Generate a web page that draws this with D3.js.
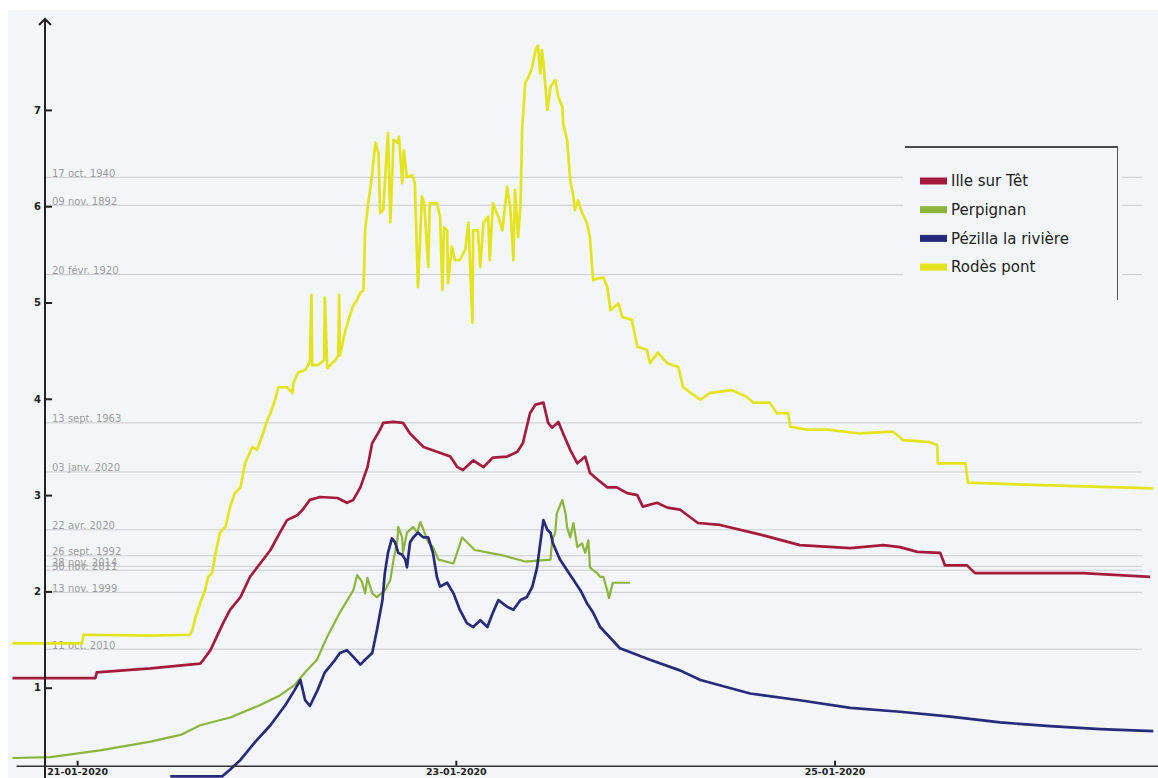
<!DOCTYPE html>
<html>
<head>
<meta charset="utf-8">
<script src="https://cdn.jsdelivr.net/npm/d3@7"></script>
<style>
  body { margin: 0; background: #fff; }
</style>
</head>
<body>
<div id="chart"></div>
<script>
// stations (legend order) and their colours
const stations = ["Ille sur Têt", "Perpignan", "Pézilla la rivière", "Rodès pont"];
const stationColors = ["#a51b3d", "#8db43c", "#282a7a", "#e4e41e"];

// readings: [hours since 20-01-2020 00:00, water level in m]
const illeSurTet = [
  [15.8, 1.10], [26.3, 1.10], [26.5, 1.16], [33.3, 1.20], [39.6, 1.25], [40.0, 1.29], [40.9, 1.39],
  [42.5, 1.67], [43.4, 1.81], [44.7, 1.94], [45.9, 2.15], [47.2, 2.29], [48.5, 2.43], [49.7, 2.61],
  [50.6, 2.74], [51.9, 2.79], [52.6, 2.85], [53.5, 2.95], [54.8, 2.98], [57.0, 2.97], [58.2, 2.92],
  [59.0, 2.95], [59.9, 3.08], [60.8, 3.29], [61.4, 3.54], [62.4, 3.68], [62.8, 3.75], [64.1, 3.76],
  [65.3, 3.75], [66.2, 3.64], [67.9, 3.50], [69.6, 3.45], [71.3, 3.40], [72.2, 3.29], [72.9, 3.26],
  [74.2, 3.36], [75.5, 3.29], [76.7, 3.39], [78.5, 3.40], [79.8, 3.45], [80.5, 3.54], [81.4, 3.85],
  [82.1, 3.94], [83.1, 3.96], [83.7, 3.75], [84.2, 3.70], [85.0, 3.76], [85.6, 3.64], [86.5, 3.47],
  [87.4, 3.33], [88.4, 3.40], [89.0, 3.23], [90.0, 3.16], [91.2, 3.08], [92.4, 3.08], [93.7, 3.02],
  [95.0, 3.00], [95.7, 2.88], [97.5, 2.92], [98.8, 2.87], [100.4, 2.85], [101.7, 2.77], [102.7, 2.71],
  [105.5, 2.69], [110.6, 2.59], [115.6, 2.48], [122.0, 2.45], [126.2, 2.48], [128.3, 2.46], [130.5, 2.41],
  [133.4, 2.40], [134.0, 2.27], [136.8, 2.27], [137.8, 2.19], [143.1, 2.19], [151.5, 2.19], [160.0, 2.15]
];

const perpignan = [
  [15.8, 0.27], [20.6, 0.28], [26.9, 0.35], [33.3, 0.44], [37.1, 0.51], [39.6, 0.61], [43.4, 0.69],
  [47.2, 0.82], [49.7, 0.92], [51.6, 1.03], [52.9, 1.16], [54.4, 1.29], [55.7, 1.53], [57.3, 1.78],
  [59.0, 2.01], [59.5, 2.17], [60.1, 2.10], [60.5, 1.98], [60.8, 2.14], [61.4, 1.98], [62.0, 1.94],
  [63.0, 2.01], [63.7, 2.12], [64.1, 2.33], [64.6, 2.53], [64.7, 2.67], [65.2, 2.56], [65.3, 2.40],
  [65.8, 2.61], [66.6, 2.67], [67.1, 2.61], [67.5, 2.72], [67.9, 2.64], [68.5, 2.51], [69.1, 2.46],
  [69.8, 2.33], [71.7, 2.29], [72.8, 2.56], [74.4, 2.43], [77.6, 2.38], [80.8, 2.31], [84.0, 2.33],
  [84.2, 2.53], [84.6, 2.61], [84.8, 2.81], [85.5, 2.95], [85.9, 2.81], [86.1, 2.67], [86.5, 2.56],
  [86.9, 2.71], [87.4, 2.46], [88.0, 2.50], [88.4, 2.40], [88.8, 2.53], [89.0, 2.25], [89.4, 2.22],
  [89.9, 2.19], [90.3, 2.15], [90.7, 2.15], [91.2, 2.01], [91.4, 1.93], [91.9, 2.09], [94.1, 2.09]
];

const pezilla = [
  [35.8, 0.08], [42.4, 0.08], [43.4, 0.15], [44.7, 0.25], [46.6, 0.44], [48.5, 0.61], [50.4, 0.82],
  [51.6, 0.98], [52.3, 1.08], [52.9, 0.87], [53.5, 0.81], [54.5, 0.98], [55.4, 1.16], [56.7, 1.29],
  [57.3, 1.36], [58.2, 1.39], [59.0, 1.32], [59.9, 1.24], [60.5, 1.29], [61.4, 1.36], [62.0, 1.60],
  [62.7, 1.91], [63.0, 2.19], [63.4, 2.40], [63.9, 2.55], [64.3, 2.51], [64.7, 2.40], [65.2, 2.38],
  [65.6, 2.33], [65.8, 2.25], [66.2, 2.51], [66.6, 2.56], [67.2, 2.61], [67.9, 2.56], [68.5, 2.56],
  [69.1, 2.40], [69.6, 2.15], [70.0, 2.05], [70.9, 2.09], [71.7, 1.98], [72.5, 1.81], [73.4, 1.67],
  [74.2, 1.63], [75.1, 1.70], [76.0, 1.63], [76.7, 1.78], [77.4, 1.91], [78.5, 1.84], [79.3, 1.81],
  [80.2, 1.91], [81.0, 1.94], [81.7, 2.05], [82.3, 2.25], [82.7, 2.50], [83.1, 2.74], [83.6, 2.64],
  [84.0, 2.61], [84.3, 2.50], [85.2, 2.33], [86.1, 2.22], [86.9, 2.12], [87.8, 2.01], [88.6, 1.88],
  [89.4, 1.78], [90.3, 1.63], [92.8, 1.41], [96.6, 1.29], [100.4, 1.18], [103.0, 1.08], [109.3, 0.94],
  [115.6, 0.87], [122.0, 0.79], [128.3, 0.75], [134.7, 0.70], [141.0, 0.64], [147.3, 0.60],
  [153.7, 0.57], [160.4, 0.55]
];

const rodesPont = [
  [15.8, 1.46], [24.6, 1.46], [24.8, 1.55], [33.3, 1.54], [38.3, 1.55], [38.6, 1.60], [39.0, 1.73],
  [39.6, 1.88], [40.2, 2.01], [40.6, 2.15], [41.1, 2.19], [41.7, 2.46], [42.1, 2.61], [42.8, 2.67],
  [43.4, 2.88], [44.0, 3.02], [44.7, 3.08], [45.3, 3.33], [46.2, 3.50], [46.8, 3.47], [47.4, 3.60],
  [48.1, 3.78], [48.5, 3.85], [49.1, 3.99], [49.5, 4.12], [50.6, 4.12], [51.3, 4.06], [51.4, 4.16],
  [52.0, 4.27], [52.9, 4.30], [53.3, 4.35], [53.5, 4.40], [53.7, 5.08], [53.8, 4.35], [54.5, 4.35],
  [55.3, 4.40], [55.4, 5.05], [55.7, 4.32], [56.7, 4.40], [57.1, 4.45], [57.2, 5.08], [57.3, 4.45],
  [57.6, 4.56], [58.0, 4.71], [58.6, 4.87], [58.9, 4.95], [59.5, 5.03], [59.9, 5.10], [60.3, 5.13],
  [60.5, 5.75], [60.9, 6.03], [61.4, 6.34], [61.8, 6.66], [62.2, 6.55], [62.4, 5.93], [62.8, 5.96],
  [63.2, 6.51], [63.4, 6.76], [63.7, 5.83], [64.1, 6.69], [64.6, 6.66], [64.8, 6.72], [65.2, 6.24],
  [65.4, 6.58], [65.8, 6.30], [66.5, 6.32], [66.8, 6.24], [67.2, 5.16], [67.7, 6.10], [68.0, 6.03],
  [68.5, 5.37], [68.7, 6.03], [69.6, 6.03], [70.0, 5.89], [70.3, 5.13], [70.5, 5.78], [70.9, 5.75],
  [71.0, 5.20], [71.5, 5.58], [71.9, 5.44], [72.5, 5.44], [73.2, 5.55], [73.6, 5.83], [74.1, 4.79],
  [74.2, 5.75], [74.8, 5.75], [75.1, 5.37], [75.5, 5.83], [76.1, 5.89], [76.3, 5.44], [76.7, 6.03],
  [77.4, 5.89], [77.9, 5.75], [78.5, 6.20], [78.9, 5.99], [79.3, 5.44], [79.5, 6.17], [79.9, 5.68],
  [80.2, 6.03], [80.4, 6.79], [80.8, 7.28], [81.2, 7.34], [81.7, 7.45], [82.1, 7.62], [82.4, 7.67],
  [82.7, 7.38], [82.9, 7.62], [83.1, 7.49], [83.6, 7.00], [84.0, 7.24], [84.6, 7.31], [85.0, 7.13],
  [85.5, 7.03], [85.6, 6.86], [86.1, 6.69], [86.5, 6.27], [86.9, 6.10], [87.1, 5.96], [87.5, 6.06],
  [88.0, 5.93], [88.6, 5.83], [89.0, 5.68], [89.4, 5.23], [90.0, 5.25], [90.7, 5.26], [91.2, 5.16],
  [91.6, 4.92], [92.6, 4.99], [93.1, 4.85], [94.3, 4.82], [95.0, 4.54], [96.2, 4.51], [96.6, 4.37],
  [97.6, 4.48], [98.8, 4.37], [100.2, 4.33], [100.8, 4.12], [103.0, 3.99], [104.2, 4.06], [107.0, 4.09],
  [108.9, 4.02], [109.7, 3.96], [111.8, 3.96], [112.7, 3.85], [114.1, 3.85], [114.4, 3.71], [116.5, 3.68],
  [119.1, 3.68], [123.2, 3.64], [127.4, 3.66], [128.7, 3.57], [132.1, 3.55], [133.0, 3.52], [133.1, 3.33],
  [136.6, 3.33], [136.9, 3.13], [147.3, 3.10], [160.4, 3.07]
];

const stationData = [illeSurTet, perpignan, pezilla, rodesPont];

// historical flood levels shown as reference lines
const floodLabels = ["17 oct. 1940", "09 nov. 1892", "20 févr. 1920", "13 sept. 1963", "03 janv. 2020",
  "22 avr. 2020", "26 sept. 1992", "28 nov. 2014", "30 nov. 2011", "13 nov. 1999", "11 oct. 2010"];
const floodLevels = [6.30, 6.01, 5.29, 3.75, 3.24, 2.64, 2.37, 2.26, 2.22, 1.99, 1.40];

const yTicks = [1, 2, 3, 4, 5, 6, 7];
const xTickDays = ["2020-01-21", "2020-01-23", "2020-01-25"];

const width = 1158, height = 778;
const toDate = h => new Date(2020, 0, 20, 0, Math.round(h * 60));

const svg = d3.select("#chart").append("svg")
    .attr("width", width)
    .attr("height", height)
    .style("font-family", "'DejaVu Sans', Verdana, sans-serif")
    .style("display", "block");

// panel background
svg.append("rect")
    .attr("x", 8).attr("y", 10)
    .attr("width", width - 8).attr("height", height - 10)
    .attr("fill", "#f3f6f9");

const x = d3.scaleTime()
    .domain([toDate(16.25), toDate(161)])
    .range([16, 1158]);

const y = d3.scaleLinear()
    .domain([0, 8])
    .range([784, 13.6]);

const axisX = 45;

// reference lines
const refG = svg.append("g");
refG.selectAll("line")
    .data(floodLevels)
    .join("line")
    .attr("x1", axisX).attr("x2", 1142)
    .attr("y1", d => y(d)).attr("y2", d => y(d))
    .attr("stroke", "#c9cbcf")
    .attr("stroke-width", 1);

// the 2014 / 2011 labels sit on top of each other, as in the original
refG.selectAll("text")
    .data(floodLevels)
    .join("text")
    .attr("x", axisX + 7)
    .attr("y", d => y(d) - 0.5)
    .attr("fill", "#9a9ca0")
    .attr("font-size", 10)
    .text((d, i) => floodLabels[i]);

// series
const line = d3.line()
    .x(d => x(toDate(d[0])))
    .y(d => y(d[1]));

svg.append("g")
    .selectAll("path")
    .data(stationData)
    .join("path")
    .attr("d", line)
    .attr("fill", "none")
    .attr("stroke", (d, i) => stationColors[i])
    .attr("stroke-width", (d, i) => i === 1 ? 2.2 : 2.7)
    .attr("stroke-linejoin", "round");

// legend
const legend = svg.append("g");
legend.append("rect")
    .attr("x", 903).attr("y", 147)
    .attr("width", 219).attr("height", 154)
    .attr("fill", "#f3f6f9");
legend.append("line")
    .attr("x1", 905).attr("x2", 1118)
    .attr("y1", 147).attr("y2", 147)
    .attr("stroke", "#111").attr("stroke-width", 1.5);
legend.append("line")
    .attr("x1", 1117.5).attr("x2", 1117.5)
    .attr("y1", 147).attr("y2", 300)
    .attr("stroke", "#555").attr("stroke-width", 1);

const rows = legend.selectAll("g.row")
    .data(stations)
    .join("g")
    .attr("class", "row")
    .attr("transform", (d, i) => `translate(920, ${181 + i * 28.7})`);
rows.append("rect")
    .attr("x", 0).attr("y", -3.5)
    .attr("width", 27).attr("height", 7)
    .attr("fill", (d, i) => stationColors[i]);
rows.append("text")
    .attr("x", 31).attr("dy", "0.35em")
    .attr("font-size", 15)
    .attr("fill", "#222")
    .text(d => d);

// y axis
const yAxisG = svg.append("g")
    .attr("transform", `translate(${axisX},0)`)
    .call(d3.axisLeft(y).tickValues(yTicks).tickSize(-7).tickPadding(4));
yAxisG.select(".domain").remove();
yAxisG.selectAll(".tick line").attr("stroke", "#222").attr("stroke-width", 2);
yAxisG.selectAll(".tick text")
    .attr("font-size", 10).attr("font-weight", "bold").attr("fill", "#222")
    .attr("font-family", "'DejaVu Sans', sans-serif");
yAxisG.append("line")
    .attr("x1", 0).attr("x2", 0).attr("y1", 19).attr("y2", height)
    .attr("stroke", "#222").attr("stroke-width", 2);
yAxisG.append("path")
    .attr("d", "M-6,25L0,19L6,25")
    .attr("fill", "none").attr("stroke", "#222").attr("stroke-width", 2);

// x axis
const xAxisG = svg.append("g")
    .attr("transform", `translate(0,${y(0.19)})`)
    .call(d3.axisBottom(x)
        .tickValues(xTickDays.map(s => d3.timeParse("%Y-%m-%d")(s)))
        .tickFormat(d3.timeFormat("%d-%m-%Y"))
        .tickSizeInner(-5).tickSizeOuter(0).tickPadding(3));
xAxisG.select(".domain").attr("stroke", "#333").attr("stroke-width", 1.5);
xAxisG.selectAll(".tick line").attr("stroke", "#222").attr("stroke-width", 2);
xAxisG.selectAll(".tick text")
    .attr("font-size", 9.5).attr("font-weight", "bold").attr("fill", "#222")
    .attr("font-family", "'DejaVu Sans', sans-serif");
</script>
</body>
</html>
